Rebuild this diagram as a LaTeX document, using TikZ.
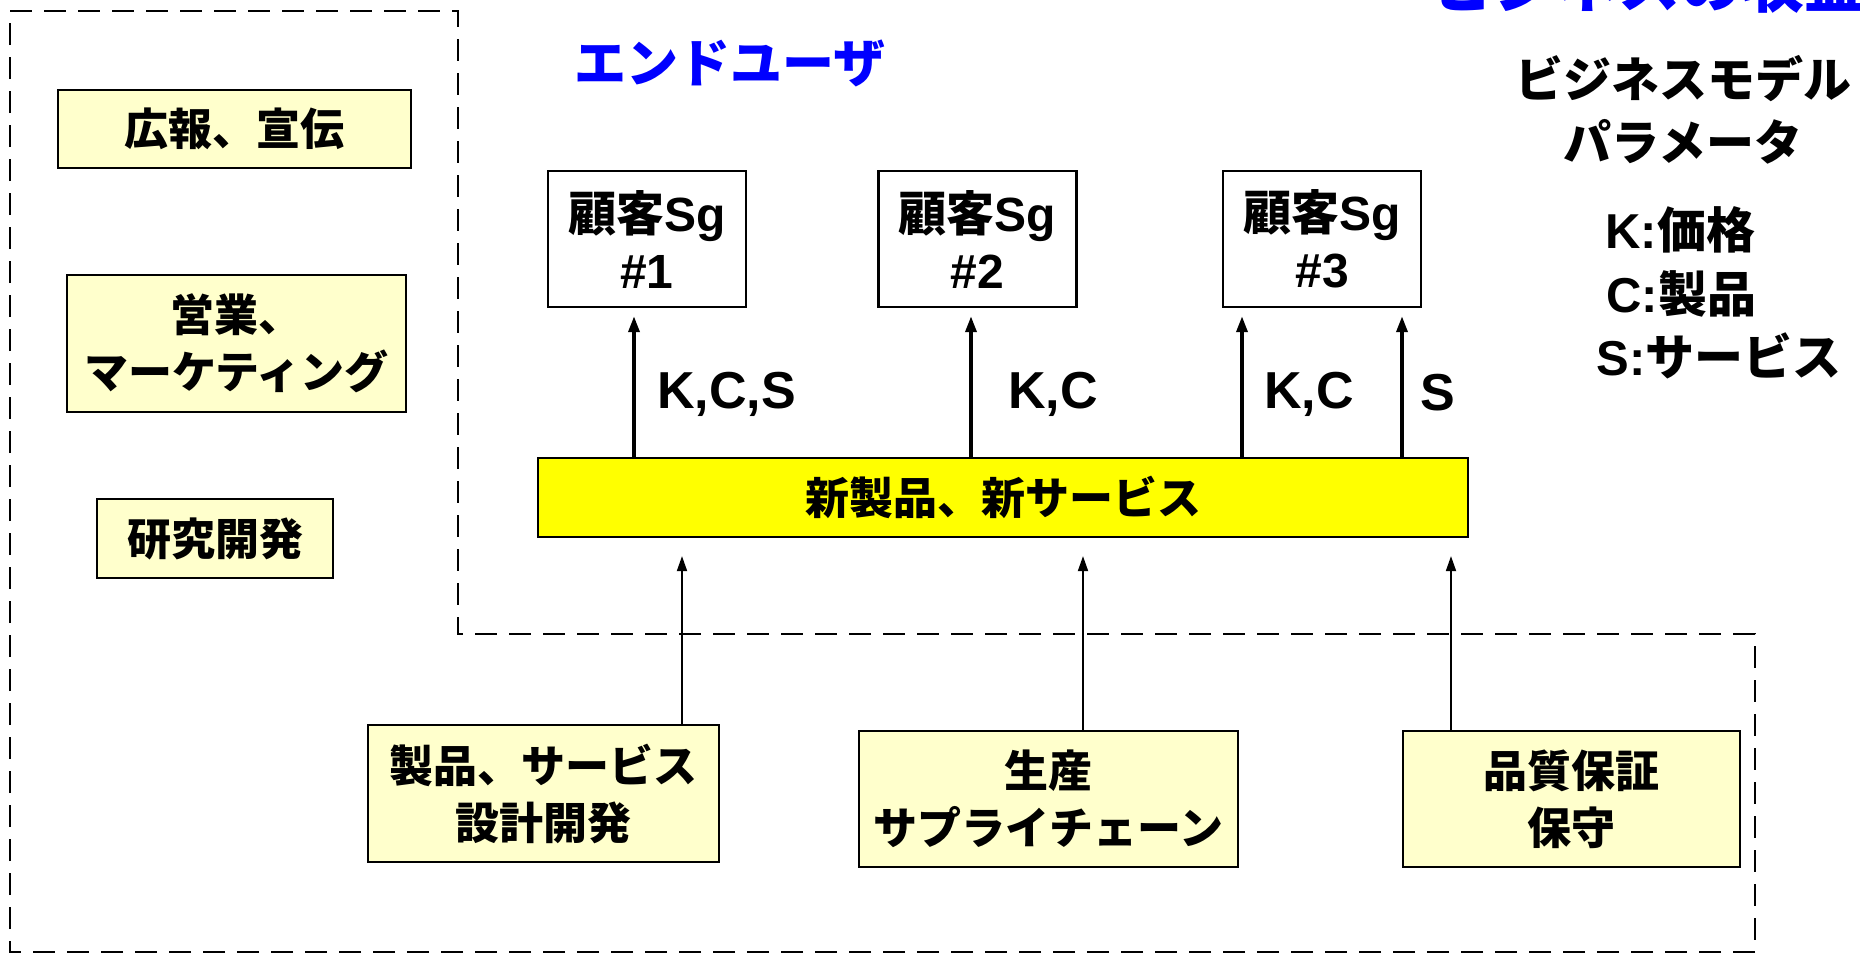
\documentclass[tikz,border=0pt]{standalone}
\usepackage{fontspec}
\setmainfont{Liberation Sans}
\newfontfamily\jp{Noto Sans CJK JP}
\usetikzlibrary{arrows.meta}
\definecolor{paleyellow}{HTML}{FFFFCC}
\definecolor{brightyellow}{HTML}{FFFF00}
\definecolor{titleblue}{HTML}{0000FF}
\begin{document}
\begin{tikzpicture}[x=0.5pt,y=-0.5pt,
  box/.style={draw=black,line width=1.1pt,fill=paleyellow,inner sep=0pt,align=center,
    font=\jp\bfseries\fontsize{22}{28.5}\selectfont},
  custbox/.style={draw=black,line width=1.2pt,fill=white,inner sep=0pt,align=center,
    minimum width=99pt,minimum height=68pt,font=\bfseries\fontsize{24}{28.5}\selectfont},
  lbl/.style={anchor=base west,inner sep=0pt,font=\bfseries\fontsize{26}{30}\selectfont},
  legend/.style={anchor=base west,inner sep=0pt,font=\bfseries\fontsize{24.5}{30}\selectfont},
  bluetitle/.style={inner sep=0pt,text=titleblue,font=\jp\bfseries\fontsize{26}{30}\selectfont},
  outline/.style={draw=black,line width=1.2pt,dash pattern=on 11pt off 6pt},
  bigarrow/.style={line width=1.75pt,-{Triangle[length=8pt,width=5.5pt]},shorten >=4pt},
  smallarrow/.style={line width=0.9pt,-{Triangle[length=7.5pt,width=5pt]},shorten >=9pt}
]
\clip (0,0) rectangle (1860,954);

% dashed outline
\draw[outline] (10,11) -- (458,11) -- (458,634) -- (1755,634) -- (1755,952) -- (10,952) -- cycle;

% blue titles
\node[bluetitle,anchor=base west,font=\jp\bfseries\fontsize{31}{34}\selectfont] (revenue) at (1432,7) {ビジネスの収益};
\node[bluetitle] (enduser) at (730,63) {エンドユーザ};

% left boxes
\node[box,minimum width=176.5pt,minimum height=39pt] (pr) at (234.5,129) {広報、宣伝};
\node[box,minimum width=169.5pt,minimum height=68.5pt] (sales) at (236.5,343.5) {営業、\\マーケティング};
\node[box,minimum width=118pt,minimum height=39.5pt] (rd) at (215,538.5) {研究開発};

% customer boxes
\node[custbox] (c1) at (647,239) {{\jp 顧客}Sg\\\#1};
\node[custbox] (c2) at (977.5,239) {{\jp 顧客}Sg\\\#2};
\node[custbox] (c3) at (1322,239) {{\jp 顧客}Sg\\\#3};

% new product / service
\node[box,fill=brightyellow,minimum width=465pt,minimum height=39.5pt] (ns) at (1003,497.5) {新製品、新サービス};

% bottom boxes
\node[box,minimum width=175.5pt,minimum height=68.5pt] (design) at (543.5,793.5) {製品、サービス\\設計開発};
\node[box,minimum width=189.5pt,minimum height=68pt] (prod) at (1048.5,799) {生産\\サプライチェーン};
\node[box,minimum width=168.5pt,minimum height=68pt] (qa) at (1571.5,799) {品質保証\\保守};

% legend
\node[bluetitle,text=black,font=\jp\bfseries\fontsize{24}{31.5}\selectfont,align=center] (bm) at (1683,110) {ビジネスモデル\\パラメータ};
\node[legend] (lk) at (1605,248) {K:{\jp 価格}};
\node[legend] (lc) at (1606,312) {C:{\jp 製品}};
\node[legend] (ls) at (1596,375) {S:{\jp サービス}};

% upper arrows
\coordinate (u1) at (634,0);
\coordinate (u2) at (971,0);
\coordinate (u3) at (1242,0);
\coordinate (u4) at (1402,0);
\draw[bigarrow] (u1 |- ns.north) -- (u1 |- c1.south);
\draw[bigarrow] (u2 |- ns.north) -- (u2 |- c2.south);
\draw[bigarrow] (u3 |- ns.north) -- (u3 |- c3.south);
\draw[bigarrow] (u4 |- ns.north) -- (u4 |- c3.south);
\node[lbl] (l1) at (657,408) {K,C,S};
\node[lbl] (l2) at (1008,408) {K,C};
\node[lbl] (l3) at (1264,408) {K,C};
\node[lbl] (l4) at (1420,410) {S};

% lower arrows
\coordinate (d1) at (682,0);
\coordinate (d2) at (1083,0);
\coordinate (d3) at (1451,0);
\draw[smallarrow] (d1 |- design.north) -- (d1 |- ns.south);
\draw[smallarrow] (d2 |- prod.north) -- (d2 |- ns.south);
\draw[smallarrow] (d3 |- qa.north) -- (d3 |- ns.south);
\end{tikzpicture}
\end{document}
